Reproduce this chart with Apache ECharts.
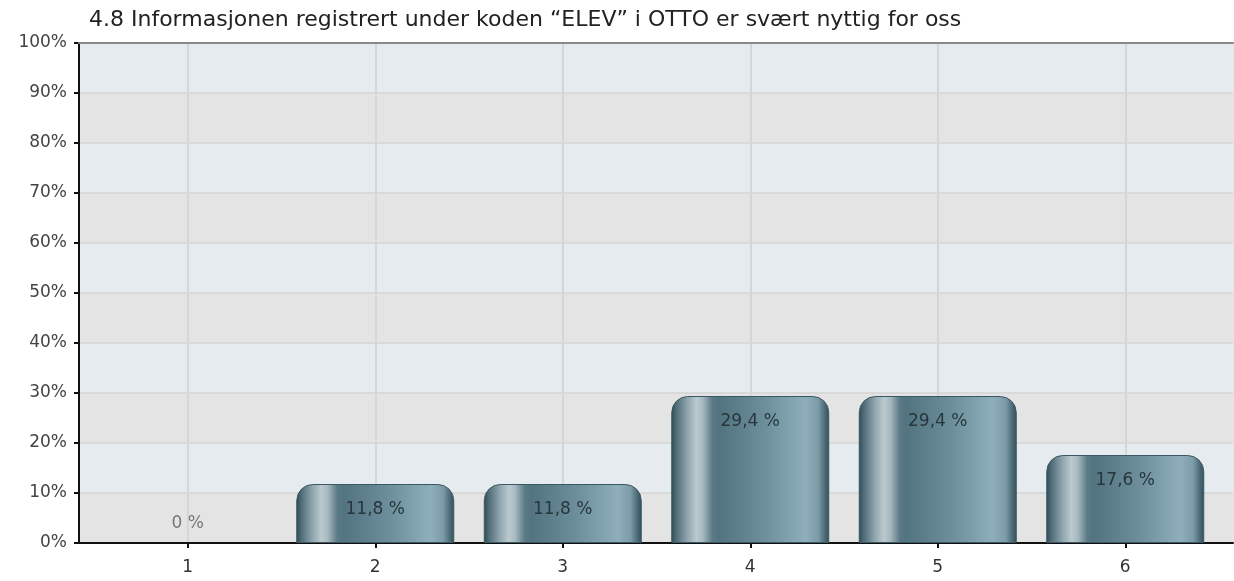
<!DOCTYPE html>
<html>
<head>
<meta charset="utf-8">
<script src="https://cdn.jsdelivr.net/npm/echarts@6/dist/echarts.min.js"></script>
<style>
  html, body { margin: 0; padding: 0; background: #fff; }
  #chart-container { width: 1234px; height: 581px; }
</style>
</head>
<body>
<div id="chart-container"></div>
<script>
var titleText = '4.8 Informasjonen registrert under koden \u201cELEV\u201d i OTTO er sv\u00e6rt nyttig for oss';
var categories = ['1', '2', '3', '4', '5', '6'];
var values = [0, 11.8, 11.8, 29.4, 29.4, 17.6];

var font = '"DejaVu Sans", "Liberation Sans", Arial, sans-serif';

var barColor = {
    type: 'linear', x: 0, y: 0, x2: 1, y2: 0,
    colorStops: [
        {offset: 0, color: '#2e4953'},
        {offset: 0.03, color: '#4d6b76'},
        {offset: 0.10, color: '#8ea4ad'},
        {offset: 0.16, color: '#bccacf'},
        {offset: 0.20, color: '#a7b8bf'},
        {offset: 0.26, color: '#5b7a86'},
        {offset: 0.30, color: '#527380'},
        {offset: 0.60, color: '#6d909c'},
        {offset: 0.85, color: '#8eaebb'},
        {offset: 0.93, color: '#7a9ba7'},
        {offset: 0.98, color: '#45626d'},
        {offset: 1, color: '#34505a'}
    ]
};

function fmt(v) {
    return String(v).replace('.', ',') + ' %';
}

var barData = values.map(function (v) {
    var item = {value: v};
    if (v === 0) {
        item.label = {position: 'top', distance: 11, color: '#777'};
        item.itemStyle = {borderWidth: 0};
    }
    return item;
});

var dom = document.getElementById('chart-container');
var myChart = echarts.init(dom, null, {renderer: 'canvas'});

var option = {
    animation: false,
    title: {
        text: titleText,
        left: 89,
        top: 9,
        padding: 0,
        textStyle: {fontFamily: font, fontSize: 22, fontWeight: 'normal', color: '#222'}
    },
    grid: [
        {left: 79, right: 1, top: 43, bottom: 38, show: true, borderColor: '#d0d0d0', borderWidth: 1, containLabel: false},
        {left: 94, right: 15, top: 43, bottom: 38, containLabel: false}
    ],
    xAxis: [
        {
            gridIndex: 0, type: 'value', min: 0, max: 1, position: 'bottom',
            axisLine: {show: true, lineStyle: {color: '#111', width: 2}},
            axisTick: {show: false}, axisLabel: {show: false}, splitLine: {show: false},
            z: 3
        },
        {
            gridIndex: 0, type: 'value', min: 0, max: 1, position: 'top',
            axisLine: {show: true, lineStyle: {color: '#8a8a8a', width: 2}},
            axisTick: {show: false}, axisLabel: {show: false}, splitLine: {show: false},
            z: 3
        },
        {
            gridIndex: 1, type: 'category', data: categories,
            axisLine: {show: false},
            axisTick: {show: true, alignWithLabel: true, length: 5, lineStyle: {color: '#111', width: 2}},
            axisLabel: {fontFamily: font, fontSize: 17, color: '#333', margin: 16},
            splitLine: {show: true, alignWithLabel: true, lineStyle: {color: '#d6d6d6', width: 2}},
            z: 2
        }
    ],
    yAxis: [
        {
            gridIndex: 0, type: 'value', min: 0, max: 100, interval: 10,
            axisLine: {show: true, lineStyle: {color: '#111', width: 2}},
            axisTick: {show: true, length: 5, lineStyle: {color: '#111', width: 2}},
            axisLabel: {formatter: '{value}%', fontFamily: font, fontSize: 17, color: '#444', margin: 12},
            splitLine: {show: true, lineStyle: {color: '#d4d4d4', width: 1.5}},
            splitArea: {show: true, areaStyle: {color: ['#e4e4e5', '#e6ebef']}},
            z: 1
        },
        {
            gridIndex: 1, type: 'value', min: 0, max: 100, interval: 10, show: false
        }
    ],
    series: [
        {
            type: 'bar',
            xAxisIndex: 2,
            yAxisIndex: 1,
            data: barData,
            barWidth: 158,
            itemStyle: {
                color: barColor,
                borderRadius: [16, 16, 0, 0],
                borderColor: '#3a5863',
                borderWidth: 1
            },
            label: {
                show: true,
                position: 'insideTop',
                distance: 17,
                fontFamily: font,
                fontSize: 17,
                color: '#26363c',
                formatter: function (p) { return fmt(p.value); }
            },
            z: 5
        }
    ]
};

myChart.setOption(option);
window.addEventListener('resize', myChart.resize);
</script>
</body>
</html>
